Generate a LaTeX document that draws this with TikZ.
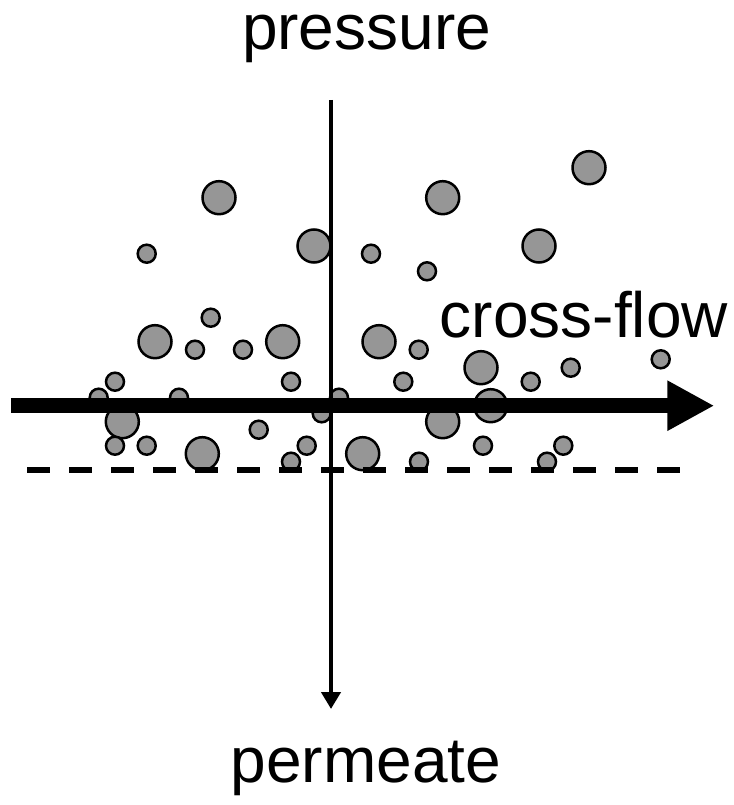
\documentclass[tikz,border=0pt]{standalone}
\usepackage{fontspec}
\setmainfont{Liberation Sans}
\usetikzlibrary{arrows.meta}
\definecolor{particlegray}{RGB}{150,150,150}
\tikzset{
  particle/.style={draw=black, fill=particlegray, line width=2.5pt},
  label text/.style={font=\fontsize{64}{72}\selectfont, inner sep=0pt, anchor=base},
  flowarrow/.style={line width=15pt, -{Triangle[length=47pt,width=47pt]}},
  permarrow/.style={line width=4.5pt, -{Triangle[length=17pt,width=19pt]}},
  membrane/.style={line width=6pt, dash pattern=on 23pt off 19pt},
}
\begin{document}
\begin{tikzpicture}[x=1pt,y=-1pt]
\useasboundingbox (0,0) rectangle (733,805);

% large particles
\foreach \px/\py in {219/197.7, 314/246, 155/341.7, 282.7/341.7, 122.3/421.7,
  202.3/453.7, 589/167.7, 442.7/197.7, 539/246, 379/341.7, 481/367.7,
  490.7/405.7, 442.7/421.7, 362.7/453.7}
  \draw[particle] (\px,\py) circle[radius=16.5pt];

% small particles
\foreach \px/\py in {146.7/253.7, 210.7/317.7, 195/349.7, 243/349.7, 115/381.7,
  291/381.7, 98.7/397.7, 179/397.7, 339/397.7, 321.7/413.3, 258.7/429.7,
  115/445.7, 146.7/445.7, 306.7/445.7, 291/461.7, 371/253.7, 427/271.3,
  418.7/349.7, 570.7/367.7, 660.7/359.3, 403.3/381.7, 530.7/381.7,
  483/445.7, 563.3/445.7, 419/461.7, 547/461.7}
  \draw[particle] (\px,\py) circle[radius=9pt];

% membrane surface
\coordinate (memL) at (27,470);
\coordinate (memR) at (681,470);
\draw[membrane] (memL) -- (memR);

% permeate direction
\coordinate (permTop) at (331,100);
\coordinate (permTip) at (331,709);
\draw[permarrow] (permTop) -- (permTip);

% cross-flow direction
\coordinate (flowStart) at (11,405.7);
\coordinate (flowTip) at (714.3,405.7);
\draw[flowarrow] (flowStart) -- (flowTip);

% labels
\node[label text] (pressure) at (366.5,50) {pressure};
\node[label text] (crossflow) at (584,337.7) {cross-flow};
\node[label text] (permeate) at (366,782) {permeate};
\end{tikzpicture}
\end{document}
